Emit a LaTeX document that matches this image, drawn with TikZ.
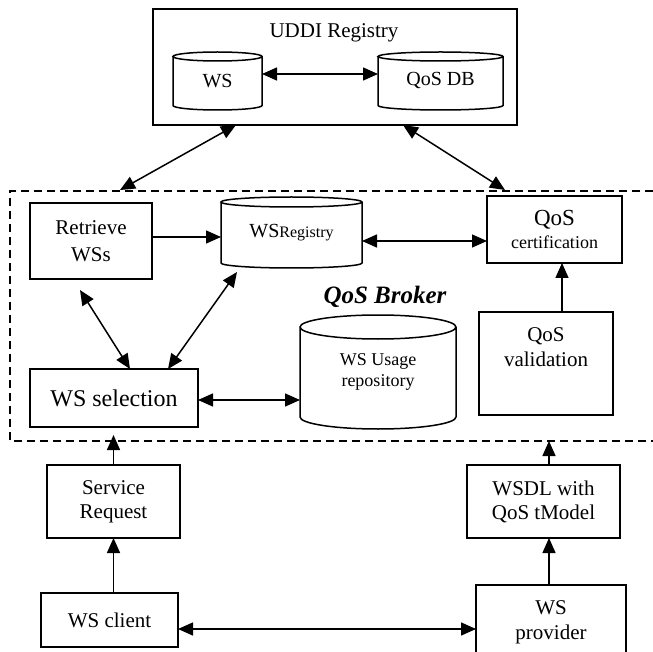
\documentclass[tikz,border=0pt]{standalone}
\usepackage{fontspec}
\setmainfont{Liberation Serif}
\usetikzlibrary{positioning,calc,arrows.meta}

\newcommand{\fs}[2]{\fontsize{#1}{#2}\selectfont}

\begin{document}
\begin{tikzpicture}[x=1pt,y=-1pt,
    box/.style={draw, line width=1.5pt, inner sep=0pt, outer sep=0pt, align=center},
    db/.style={inner sep=0pt, outer sep=0pt, align=center},
    sarrow/.style={line width=1.5pt, -{Triangle[length=15pt,width=13pt]}},
    darrow/.style={line width=1.5pt, {Triangle[length=15pt,width=13pt]}-{Triangle[length=15pt,width=13pt]}},
    brokerline/.style={line width=1.8pt, dash pattern=on 8pt off 5pt}]
    \useasboundingbox (0,0) rectangle (653,652);
    \clip (0,0) rectangle (653,652);

    % UDDI registry
    \node[box, minimum width=364pt, minimum height=116pt] (uddi) at (335,67) {};
    \node[font=\fs{21}{25}] (uddilbl) at (334,33) {UDDI Registry};
    \node[db, minimum width=89pt, minimum height=58pt, font=\fs{20}{24}] (ws) at (217.5,81) {WS};
    \node[db, minimum width=125pt, minimum height=58pt, font=\fs{20}{24}] (qosdb) at (440.5,81) {QoS DB};

    % QoS broker
    \draw[brokerline] (653,191) -- (10,191) -- (10,441) -- (653,441);
    \node[font=\fs{25}{30}\bfseries\itshape] (brokerlbl) at (385,297) {QoS Broker};
    \node[box, minimum width=122pt, minimum height=76pt, font=\fs{21}{27}] (retrieve) at (91,241) {Retrieve\\WSs};
    \node[db, minimum width=141pt, minimum height=71pt, font=\fs{20}{24}] (wsreg) at (291.5,232.5) {WS{\fs{16}{20}Registry}};
    \node[box, minimum width=135pt, minimum height=67pt, font=\fs{18}{23}] (cert) at (554.5,229.5) {{\fs{23}{23}QoS}\\certification};
    \node[box, minimum width=134pt, minimum height=103pt, font=\fs{21}{25}] (valid) at (546,363.5) {QoS\\validation\\\strut};
    \node[db, minimum width=156pt, minimum height=114pt, font=\fs{18}{21}] (usage) at (378,372) {WS Usage\\repository};
    \node[box, minimum width=168pt, minimum height=58pt, font=\fs{24}{28}] (sel) at (114,398) {WS selection};

    % client and provider side
    \node[box, minimum width=133pt, minimum height=73pt, font=\fs{21}{24}] (req) at (113.5,501.5) {Service\\Request};
    \node[box, minimum width=153pt, minimum height=73pt, font=\fs{21}{24}] (wsdl) at (543.5,501.5) {WSDL with\\QoS tModel};
    \node[box, minimum width=137pt, minimum height=54pt, font=\fs{21}{25}] (client) at (109.5,620) {WS client};
    \node[box, minimum width=150pt, minimum height=75pt, font=\fs{21}{25}] (prov) at (551,622.5) {WS\\provider};

    % cylinders
    \foreach \n/\rx/\ry in {ws/44.5/4.5, qosdb/62.5/4.5, wsreg/70.5/5, usage/78/12}
        \draw[line width=1.5pt] ([yshift=-\ry pt]\n.north west) -- ([yshift=\ry pt]\n.south west)
            arc[start angle=180, end angle=360, x radius=\rx pt, y radius=\ry pt]
            -- ([yshift=-\ry pt]\n.north east)
            arc[start angle=0, end angle=360, x radius=\rx pt, y radius=\ry pt];

    \coordinate (uddiL) at (120,190);
    \coordinate (uddiR) at (505,190);
    \coordinate (selin) at (113.5,435);
    \coordinate (valin) at (549,441);

    \draw[darrow] ([yshift=7pt]ws.east) -- ([yshift=7pt]qosdb.west);
    \draw[darrow] ([xshift=-99pt]uddi.south) -- (uddiL);
    \draw[darrow] ([xshift=68pt]uddi.south) -- (uddiR);
    \draw[sarrow] ([yshift=4pt]retrieve.east) -- ([yshift=-4.5pt]wsreg.west);
    \draw[darrow] ([yshift=-8.5pt]wsreg.east) -- ([yshift=-11.5pt]cert.west);
    \draw[darrow] ([shift={(-11pt,-11pt)}]retrieve.south) -- ([xshift=16pt]sel.north);
    \draw[darrow] ([shift={(-54.5pt,-4pt)}]wsreg.south) -- ([xshift=54pt]sel.north);
    \draw[darrow] ([yshift=-2pt]sel.east) -- ([yshift=-28pt]usage.west);
    \draw[sarrow] ([xshift=16pt]valid.north) -- ([xshift=7.5pt]cert.south);
    \draw[sarrow] (req.north) -- (selin);
    \draw[sarrow] ([xshift=5.5pt]wsdl.north) -- (valin);
    \draw[sarrow] ([xshift=4pt]client.north) -- (req.south);
    \draw[sarrow] ([xshift=-2pt]prov.north) -- ([xshift=5.5pt]wsdl.south);
    \draw[darrow] ([yshift=-9pt]client.east) -- ([yshift=-6.5pt]prov.west);
\end{tikzpicture}
\end{document}
